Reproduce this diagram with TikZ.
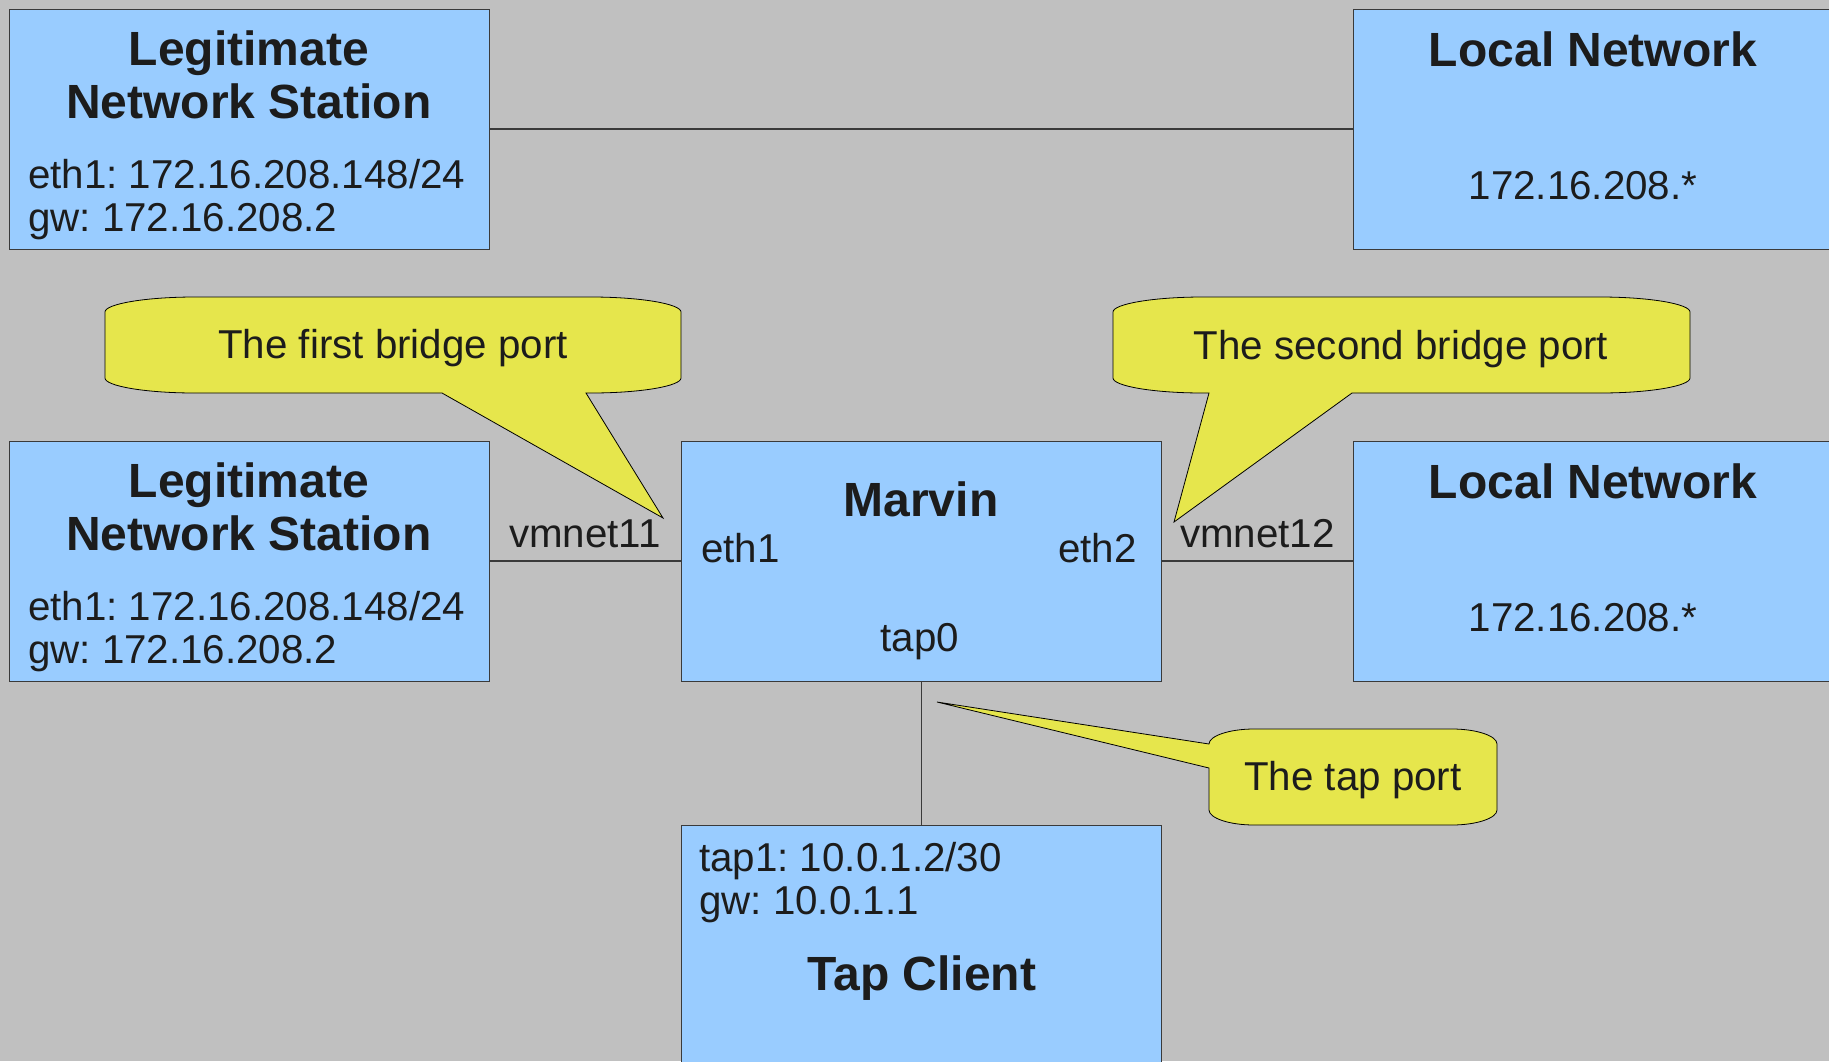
\documentclass[tikz,border=0pt]{standalone}
\usepackage{fontspec}
\setmainfont{Liberation Sans}
\frenchspacing

\definecolor{hostblue}{HTML}{99CCFF}
\definecolor{noteyellow}{HTML}{E6E64C}
\definecolor{canvasgray}{HTML}{C0C0C0}
\definecolor{inkgray}{HTML}{1C1C1C}
\definecolor{edgegray}{HTML}{3A3A3A}

\begin{document}
\begin{tikzpicture}[x=1pt, y=-1pt]
   \tikzstyle{host}=[rectangle, draw=edgegray, line width=1pt, fill=hostblue, minimum width=480pt, minimum height=240pt, inner sep=0pt]
   \tikzstyle{title}=[text=inkgray, font=\fontsize{48}{53}\selectfont\bfseries, inner sep=0pt]
   \tikzstyle{info}=[text=inkgray, font=\fontsize{40.3}{44}\selectfont, inner sep=0pt]
   \tikzstyle{wire}=[draw=edgegray, line width=1.2pt]
   \tikzstyle{note}=[draw=black, line width=0.8pt, fill=noteyellow]

\fill[canvasgray] (0,0) rectangle (1829,1061);
\useasboundingbox (0,0) rectangle (1829,1061);

% boxes
\node[host] (station1) at (249,129) {};
\node[host] (lan1) at (1593,129) {};
\node[host] (station2) at (249,561) {};
\node[host] (marvin) at (921.5,561) {};
\node[host] (lan2) at (1593,561) {};
\node[host] (tapclient) at (921.5,945.5) {};

% links
\draw[wire] (station1) -- (lan1);
\draw[wire] (station2) -- (marvin);
\draw[wire] (marvin) -- (lan2);
\draw[wire] (marvin) -- (tapclient);

% callouts
\coordinate (tip1) at (663,518);
\coordinate (tip2) at (1174,522);
\coordinate (tip3) at (937,702);

\draw[note] (586,393) -- (tip1) -- (442,393) -- (195,393)
    .. controls (145,393) and (105,386) .. (105,378) -- (105,312)
    .. controls (105,304) and (145,297) .. (195,297) -- (591,297)
    .. controls (641,297) and (681,304) .. (681,312) -- (681,378)
    .. controls (681,386) and (641,393) .. (591,393) -- cycle;

\draw[note] (1209,393) -- (tip2) -- (1352,393) -- (1600,393)
    .. controls (1650,393) and (1690,386) .. (1690,378) -- (1690,312)
    .. controls (1690,304) and (1650,297) .. (1600,297) -- (1203,297)
    .. controls (1153,297) and (1113,304) .. (1113,312) -- (1113,378)
    .. controls (1113,386) and (1153,393) .. (1203,393) -- cycle;

\draw[note] (1209,768) -- (tip3) -- (1209,744)
    .. controls (1209,736) and (1229,729) .. (1254,729) -- (1452,729)
    .. controls (1477,729) and (1497,736) .. (1497,744) -- (1497,810)
    .. controls (1497,818) and (1477,825) .. (1452,825) -- (1254,825)
    .. controls (1229,825) and (1209,818) .. (1209,810) -- cycle;

\node[info, anchor=base] (note1) at (393,358) {The first bridge port};
\node[info, anchor=base] (note2) at (1401,359) {The second bridge port};
\node[info, anchor=base] (note3) at (1353,790) {The tap port};

% texts in the boxes
\node[title, anchor=base] (station1a) at (249,65) {Legitimate};
\node[title, anchor=base] (station1b) at (249,118) {Network Station};
\node[info, anchor=base west] (station1ip) at (28,188) {eth1: 172.16.208.148/24};
\node[info, anchor=base west] (station1gw) at (28,231) {gw: 172.16.208.2};

\node[title, anchor=base] (lan1a) at (1593,66) {Local Network};
\node[info, anchor=base] (lan1ip) at (1583,199) {172.16.208.*};

\node[title, anchor=base] (station2a) at (249,497) {Legitimate};
\node[title, anchor=base] (station2b) at (249,550) {Network Station};
\node[info, anchor=base west] (station2ip) at (28,620) {eth1: 172.16.208.148/24};
\node[info, anchor=base west] (station2gw) at (28,663) {gw: 172.16.208.2};

\node[title, anchor=base] (lan2a) at (1593,498) {Local Network};
\node[info, anchor=base] (lan2ip) at (1583,631) {172.16.208.*};

\node[title, anchor=base] (marvina) at (921,516) {Marvin};
\node[info, anchor=base west] (eth1) at (701,562) {eth1};
\node[info, anchor=base east] (eth2) at (1137,562) {eth2};
\node[info, anchor=base] (tap0) at (920,651) {tap0};

\node[info, anchor=base west] (vmnet11) at (509,547) {vmnet11};
\node[info, anchor=base west] (vmnet12) at (1180,547) {vmnet12};

\node[info, anchor=base west] (tap1) at (699,871) {tap1: 10.0.1.2/30};
\node[info, anchor=base west] (tapgw) at (699,914) {gw: 10.0.1.1};
\node[title, anchor=base] (tapclienta) at (922,990) {Tap Client};

\end{tikzpicture}
\end{document}
